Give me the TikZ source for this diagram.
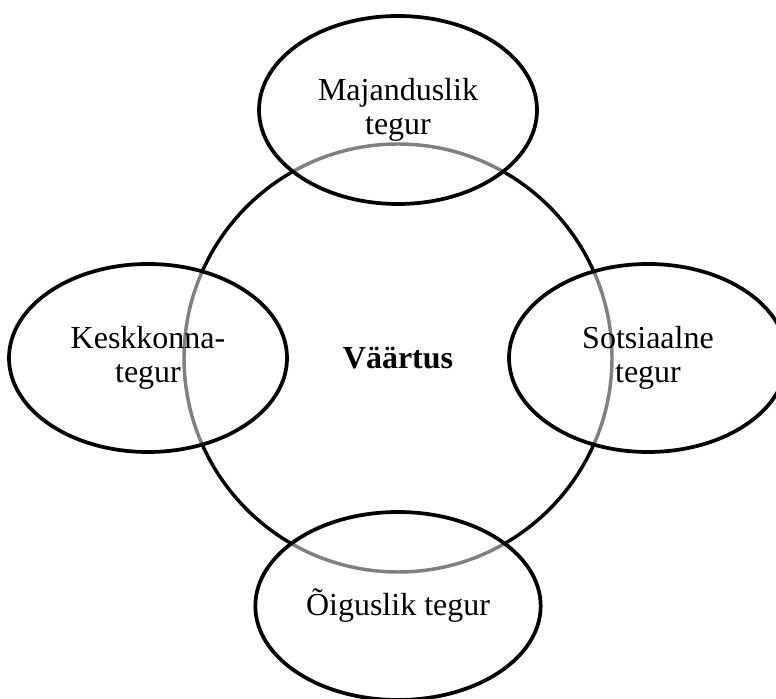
\documentclass[tikz,border=0pt]{standalone}
\usepackage{fontspec}
\setmainfont{Liberation Serif}
\usetikzlibrary{shapes.geometric}
\tikzset{
  factor/.style = {ellipse, draw, line width=1.4pt,
                   fill=white, fill opacity=0.5, text opacity=1,
                   minimum width=104.25pt, minimum height=70.5pt,
                   align=center, font=\fontsize{12pt}{13pt}\selectfont},
  value/.style = {circle, draw, line width=1.3pt, minimum size=160.5pt,
                  font=\bfseries\fontsize{12pt}{13pt}\selectfont}
}

\begin{document}
\begin{tikzpicture}[x=0.375pt, y=0.375pt]
	\def \cx{398}
	\def \cy{340}
	\def \dv{248}
	\def \dh{250}
	\useasboundingbox (0,0) rectangle (776,698);
	
	% Value
	\node[value] (vaartus) at (\cx,\cy) {Väärtus};
	
	% Factors
	\node[factor] (majandus) at (\cx,\cy+\dv) {Majanduslik\\tegur};
	\node[factor] (keskkond) at (\cx-\dh,\cy) {Keskkonna-\\tegur};
	\node[factor] (sotsiaal) at (\cx+\dh,\cy) {Sotsiaalne\\tegur};
	\node[factor] (oigus) at (\cx,\cy-\dv) {Õiguslik tegur};
	
\end{tikzpicture}
\end{document}
